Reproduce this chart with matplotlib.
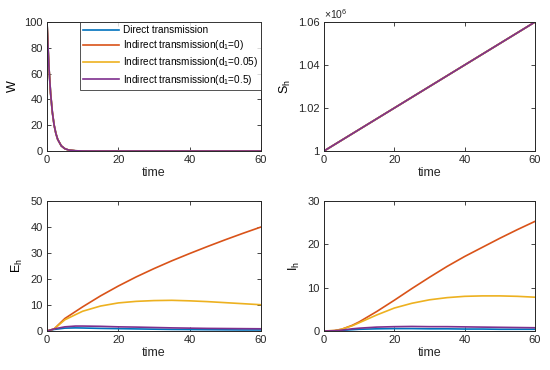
import matplotlib
matplotlib.use("Agg")
import matplotlib.pyplot as plt
import numpy as np

plt.rcParams['font.family'] = ['Liberation Sans', 'DejaVu Sans']
plt.rcParams['mathtext.fontset'] = 'custom'
plt.rcParams['mathtext.rm'] = 'Liberation Sans'

labels = ["Direct transmission", r"Indirect transmission(d$_\mathrm{1}$=0)",
          r"Indirect transmission(d$_\mathrm{1}$=0.05)", r"Indirect transmission(d$_\mathrm{1}$=0.5)"]
colors = ["#0072BD", "#D95319", "#EDB120", "#7E2F8E"]

# W panel
t_w = [0, 0.5, 1, 1.5, 2, 2.5, 3, 4, 5, 6, 8, 10, 15, 60]
w_vals = [100, 67, 45, 30, 20, 13.5, 9, 4, 1.8, 0.8, 0.17, 0.03, 0, 0]

# Sh panel
t_s = [0, 60]
sh_vals = [1.0e6, 1.06e6]

# Eh panel
t_e = [0, 2, 5, 8, 10, 15, 20, 25, 30, 35, 40, 45, 50, 55, 60]
eh_direct = [0, 0.6, 1.1, 1.2, 1.15, 1.0, 0.9, 0.8, 0.7, 0.6, 0.55, 0.5, 0.45, 0.4, 0.4]
eh_d0 = [0, 0.8, 4.8, 7.5, 9.3, 13.5, 17.3, 20.8, 24.0, 27.0, 29.8, 32.5, 35.1, 37.6, 40.0]
eh_d005 = [0, 0.8, 4.3, 6.3, 7.6, 9.6, 10.8, 11.4, 11.7, 11.8, 11.6, 11.3, 10.9, 10.5, 10.1]
eh_d05 = [0, 0.8, 1.6, 1.9, 1.9, 1.8, 1.6, 1.5, 1.35, 1.2, 1.1, 1.0, 0.95, 0.9, 0.85]

# Ih panel
t_i = [0, 3, 5, 8, 10, 15, 20, 25, 30, 35, 40, 45, 50, 55, 60]
ih_direct = [0, 0.05, 0.15, 0.3, 0.4, 0.5, 0.55, 0.55, 0.5, 0.5, 0.45, 0.45, 0.4, 0.4, 0.4]
ih_d0 = [0, 0.1, 0.4, 1.3, 2.1, 4.5, 7.1, 9.8, 12.4, 14.9, 17.2, 19.3, 21.4, 23.4, 25.3]
ih_d005 = [0, 0.1, 0.4, 1.2, 1.9, 3.7, 5.3, 6.4, 7.2, 7.7, 8.0, 8.1, 8.1, 8.0, 7.8]
ih_d05 = [0, 0.05, 0.2, 0.5, 0.65, 0.9, 1.0, 1.05, 1.0, 1.0, 0.95, 0.9, 0.85, 0.8, 0.75]

fig = plt.figure(figsize=(5.5, 3.7), dpi=100)
W, H = 550, 370
def add_ax(x0, y0, x1, y1):
    return fig.add_axes([x0 / W, 1 - y1 / H, (x1 - x0) / W, (y1 - y0) / H])

ax1 = add_ax(47, 22, 261, 151)
ax2 = add_ax(324, 22, 535, 151)
ax3 = add_ax(47, 201, 261, 331)
ax4 = add_ax(324, 201, 535, 331)

for ax in (ax1, ax2, ax3, ax4):
    ax.set_xlim(0, 60)
    ax.set_xticks([0, 20, 40, 60])
    ax.tick_params(direction='in', length=3, width=0.6, labelsize=8, colors='#262626',
                   top=True, right=True, pad=3)
    for s in ax.spines.values():
        s.set_linewidth(0.7)
        s.set_color('#262626')
    ax.set_xlabel("time", fontsize=9, labelpad=1, color='#262626')

lw = 1.2
for c, lab in zip(colors, labels):
    ax1.plot(t_w, w_vals, color=c, lw=lw, label=lab)
ax1.set_ylim(0, 100)
ax1.set_yticks([0, 20, 40, 60, 80, 100])
ax1.set_ylabel("W", fontsize=9, labelpad=4)
leg = ax1.legend(loc='upper right', prop={'size': 7.2}, frameon=True, fancybox=False,
                 edgecolor='#262626', handlelength=3.6, borderpad=0.3,
                 labelspacing=0.32, handletextpad=0.4, borderaxespad=0.0,
                 bbox_to_anchor=(1.0, 1.0))
leg.get_frame().set_linewidth(0.7)

for c in colors:
    ax2.plot(t_s, sh_vals, color=c, lw=lw)
ax2.set_ylim(1.0e6, 1.06e6)
ax2.set_yticks([1.0e6, 1.02e6, 1.04e6, 1.06e6])
ax2.set_yticklabels(["1", "1.02", "1.04", "1.06"])
ax2.set_ylabel(r"S$_\mathrm{h}$", fontsize=9, labelpad=4)
ax2.text(0.0, 1.01, r"$\times$10$^\mathrm{6}$", transform=ax2.transAxes, fontsize=7.5,
         ha='left', va='bottom', color='#262626')

for c, y in zip(colors, [eh_direct, eh_d0, eh_d005, eh_d05]):
    ax3.plot(t_e, y, color=c, lw=lw)
ax3.set_ylim(0, 50)
ax3.set_yticks([0, 10, 20, 30, 40, 50])
ax3.set_ylabel(r"E$_\mathrm{h}$", fontsize=9, labelpad=4)

for c, y in zip(colors, [ih_direct, ih_d0, ih_d005, ih_d05]):
    ax4.plot(t_i, y, color=c, lw=lw)
ax4.set_ylim(0, 30)
ax4.set_yticks([0, 10, 20, 30])
ax4.set_ylabel(r"I$_\mathrm{h}$", fontsize=9, labelpad=4)

fig.savefig("out.png", dpi=100)
